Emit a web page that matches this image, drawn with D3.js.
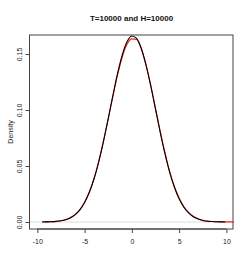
<!DOCTYPE html>
<html><head><meta charset="utf-8">
<script src="https://cdn.jsdelivr.net/npm/d3@7"></script>
<style>body{margin:0;background:#fff}svg{display:block}text{font-family:"Liberation Sans",Arial,sans-serif}</style>
</head><body><svg id="c" width="249" height="273"></svg>
<script>
const title = "T=10000 and H=10000";
const yLabel = "Density";
const xTicks = [-10, -5, 0, 5, 10];
const yTicks = [0.00, 0.05, 0.10, 0.15];
const yTickLabels = ["0.00", "0.05", "0.10", "0.15"];
const blackX = [-9.5,-9,-8.5,-8,-7.5,-7,-6.5,-6,-5.5,-5,-4.5,-4,-3.5,-3,-2.5,-2,-1.5,-1,-0.5,0,0.5,1,1.5,2,2.5,3,3.5,4,4.5,5,5.5,6,6.5,7,7.5,8,8.5,9,9.5,9.9];
const blackY = [0.0001,0.0001,0.0003,0.0006,0.0011,0.0021,0.0038,0.0066,0.0109,0.0174,0.0265,0.0386,0.0540,0.0722,0.0924,0.1133,0.1331,0.1496,0.1611,0.1661,0.1639,0.1549,0.1402,0.1215,0.1008,0.0801,0.0610,0.0444,0.0310,0.0207,0.0132,0.0081,0.0047,0.0027,0.0014,0.0007,0.0004,0.0002,0.0001,0.0000];
const redX = [-9.2,-9,-8.5,-8,-7.5,-7,-6.5,-6,-5.5,-5,-4.5,-4,-3.5,-3,-2.5,-2,-1.5,-1,-0.5,0,0.5,1,1.5,2,2.5,3,3.5,4,4.5,5,5.5,6,6.5,7,7.5,8,8.5,9,9.5,10,10.5,10.8];
const redY = [0.0001,0.0001,0.0003,0.0006,0.0011,0.0021,0.0038,0.0066,0.0110,0.0176,0.0268,0.0389,0.0542,0.0722,0.0921,0.1126,0.1318,0.1478,0.1590,0.1635,0.1630,0.1545,0.1400,0.1220,0.1015,0.0810,0.0620,0.0452,0.0318,0.0214,0.0138,0.0086,0.0051,0.0029,0.0016,0.0009,0.0005,0.0003,0.0002,0.0001,0.0001,0.0000];

const svg = d3.select("#c");
const L = 29.5, R = 233, T = 35, B = 229;
const x = d3.scaleLinear().domain([-10.83, 10.7]).range([L, R]);
const y = d3.scaleLinear().domain([-0.00625, 0.167]).range([B, T]);

// zero line
svg.append("line").attr("x1", L).attr("x2", R).attr("y1", y(0)).attr("y2", y(0))
  .attr("stroke", "#dcdcdc").attr("stroke-width", 1);

const line = d3.line().x(d => x(d[0])).y(d => y(d[1])).curve(d3.curveMonotoneX);
svg.append("path").datum(redX.map((v, i) => [v, redY[i]])).attr("d", line)
  .attr("fill", "none").attr("stroke", "#ff2020").attr("stroke-width", 1.1);
svg.append("path").datum(blackX.map((v, i) => [v, blackY[i]])).attr("d", line)
  .attr("fill", "none").attr("stroke", "#000").attr("stroke-width", 1.1);

// box
svg.append("rect").attr("x", L).attr("y", T).attr("width", R - L).attr("height", B - T)
  .attr("fill", "none").attr("stroke", "#444").attr("stroke-width", 1);

// x axis
const xa = svg.append("g").attr("transform", `translate(0,${B})`)
  .call(d3.axisBottom(x).tickValues(xTicks).tickSize(4).tickPadding(6).tickFormat(d => String(d)));
xa.select(".domain").attr("d", `M${x(-10)},0H${x(10)}`).attr("stroke", "#444");
xa.selectAll(".tick line").attr("stroke", "#444");
xa.selectAll("text").attr("font-size", 7).attr("fill", "#222").attr("font-family", "Liberation Sans, Arial, sans-serif");

// y axis
const ya = svg.append("g").attr("transform", `translate(${L},0)`)
  .call(d3.axisLeft(y).tickValues(yTicks).tickSize(4).tickFormat((d, i) => yTickLabels[i]));
ya.select(".domain").attr("d", `M0,${y(0)}V${y(0.15)}`).attr("stroke", "#444");
ya.selectAll(".tick line").attr("stroke", "#444");
ya.selectAll("text").attr("font-size", 7).attr("fill", "#222").attr("font-family", "Liberation Sans, Arial, sans-serif")
  .attr("x", 0).attr("dy", 0).attr("text-anchor", "middle")
  .attr("transform", "translate(-8,0) rotate(-90)");

svg.append("text").attr("x", 131.5).attr("y", 21).attr("text-anchor", "middle")
  .attr("font-size", 8).attr("font-weight", "bold").attr("fill", "#111").text(title);
svg.append("text").attr("transform", `translate(12.5,${(T + B) / 2}) rotate(-90)`).attr("text-anchor", "middle")
  .attr("font-size", 7).attr("fill", "#222").text(yLabel);
</script></body></html>
